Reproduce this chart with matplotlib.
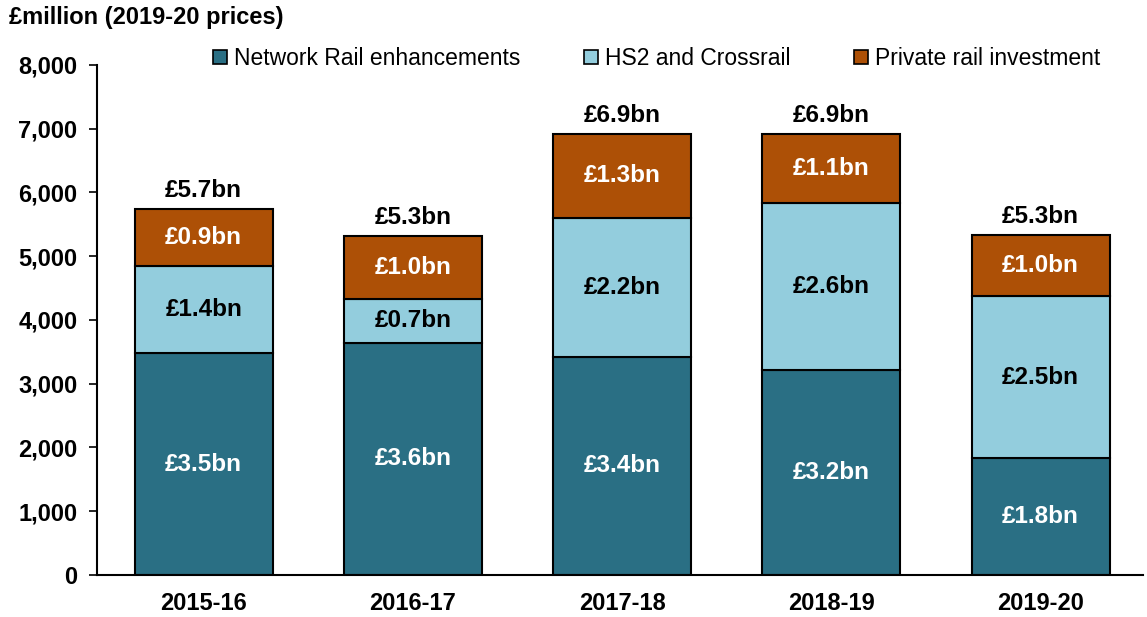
import matplotlib.pyplot as plt
import numpy as np

plt.rcParams['font.family'] = ['Liberation Sans', 'DejaVu Sans']

years = ['2015-16', '2016-17', '2017-18', '2018-19', '2019-20']
network_rail = [3480, 3640, 3420, 3210, 1830]
hs2_crossrail = [1360, 690, 2180, 2630, 2540]
private_rail = [900, 990, 1320, 1080, 960]

series = [
    ('Network Rail enhancements', network_rail, '#2a6f84', 'white'),
    ('HS2 and Crossrail', hs2_crossrail, '#93cddd', 'black'),
    ('Private rail investment', private_rail, '#ad5006', 'white'),
]

fig = plt.figure(figsize=(11.47, 6.17), dpi=100)
ax = fig.add_axes([0.0846, 0.068, 0.912, 0.827])

x = np.arange(len(years))
bottom = np.zeros(len(years))
for name, vals, col, txtcol in series:
    vals = np.array(vals, dtype=float)
    ax.bar(x, vals, 0.66, bottom=bottom, color=col, edgecolor='black',
           linewidth=1.5, label=name)
    for xi, b, v in zip(x, bottom, vals):
        ax.text(xi, b + v / 2, f'£{v/1000:.1f}bn', ha='center', va='center',
                color=txtcol, fontsize=17.5, fontweight='bold')
    bottom += vals

for xi, tot in zip(x, bottom):
    ax.text(xi, tot + 110, f'£{tot/1000:.1f}bn', ha='center', va='bottom',
            color='black', fontsize=17.5, fontweight='bold')

ax.set_xlim(-0.51, 4.49)
ax.set_ylim(0, 8000)
ax.set_yticks(range(0, 8001, 1000))
ax.set_yticklabels([f'{v:,}' for v in range(0, 8001, 1000)])
ax.set_xticks(x)
ax.set_xticklabels(years)
ax.tick_params(axis='y', labelsize=17, length=6, width=1.2, direction='out', pad=8)
ax.tick_params(axis='x', labelsize=17, length=0, pad=12)
for lab in ax.get_xticklabels() + ax.get_yticklabels():
    lab.set_fontweight('bold')

ax.spines['top'].set_visible(False)
ax.spines['right'].set_visible(False)
ax.spines['left'].set_linewidth(1.5)
ax.spines['bottom'].set_linewidth(1.5)

leg = ax.legend(loc='upper center', bbox_to_anchor=(0.535, 1.075), ncol=3,
                frameon=False, fontsize=16.5, handlelength=0.6, handleheight=0.6,
                handletextpad=0.3, columnspacing=2.8)
for h in leg.legend_handles:
    h.set_linewidth(1.2)

fig.text(0.008, 0.99, '£million (2019-20 prices)', ha='left', va='top',
         fontsize=17, fontweight='bold')

fig.savefig('out.png', dpi=100)
